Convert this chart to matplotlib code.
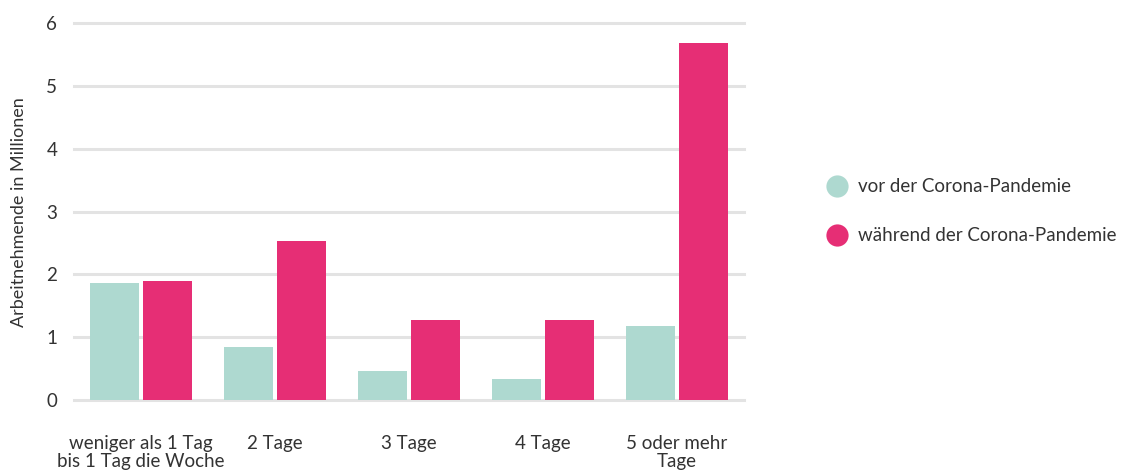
import matplotlib
matplotlib.use("Agg")
import matplotlib.pyplot as plt
from matplotlib.lines import Line2D
import numpy as np

categories = ["weniger als 1 Tag\nbis 1 Tag die Woche", "2 Tage", "3 Tage", "4 Tage", "5 oder mehr\nTage"]
vor = [1.86, 0.84, 0.46, 0.33, 1.18]
waehrend = [1.89, 2.53, 1.27, 1.27, 5.68]
series_names = ["vor der Corona-Pandemie", "während der Corona-Pandemie"]
yticks = [0, 1, 2, 3, 4, 5, 6]

teal = "#aed9d0"
pink = "#e62e75"
text_c = "#333333"
grid_c = "#e3e3e3"

plt.rcParams['font.family'] = ['Lato', 'DejaVu Sans']

fig = plt.figure(figsize=(11.21, 4.73), dpi=100)
ax = fig.add_axes([74/1121, 73/473, 670/1121, (400-23.3)/473])

x = np.arange(len(categories))
w = 0.366
off = 0.198
ax.bar(x - off, vor, width=w, color=teal, zorder=3)
ax.bar(x + off, waehrend, width=w, color=pink, zorder=3)

ax.set_xlim(-0.5, len(categories) - 0.5)
ax.set_ylim(0, 6)
for t in yticks:
    ax.axhline(t, color=grid_c, lw=2.2, zorder=1, clip_on=False)

fs = 13.5
ax.set_yticks(yticks)
ax.set_yticklabels([str(t) for t in yticks], fontsize=fs, color=text_c)
ax.set_xticks(x)
ax.set_xticklabels(categories, fontsize=fs, color=text_c, linespacing=1.12)
ax.tick_params(axis='y', length=0, pad=12)
ax.tick_params(axis='x', length=0, pad=25)
for s in ax.spines.values():
    s.set_visible(False)
ax.set_ylabel("Arbeitnehmende in Millionen", fontsize=13, color=text_c, labelpad=14)

handles = [Line2D([], [], marker='o', ls='none', markersize=16, markerfacecolor=teal, markeredgecolor='none'),
           Line2D([], [], marker='o', ls='none', markersize=16, markerfacecolor=pink, markeredgecolor='none')]
leg = fig.legend(handles, series_names, loc='center left', bbox_to_anchor=(0.722, 0.553),
                 frameon=False, fontsize=13.5, labelspacing=1.7, handletextpad=0.5, handlelength=1.2,
                 labelcolor=text_c)

fig.savefig("out.png", dpi=100)
